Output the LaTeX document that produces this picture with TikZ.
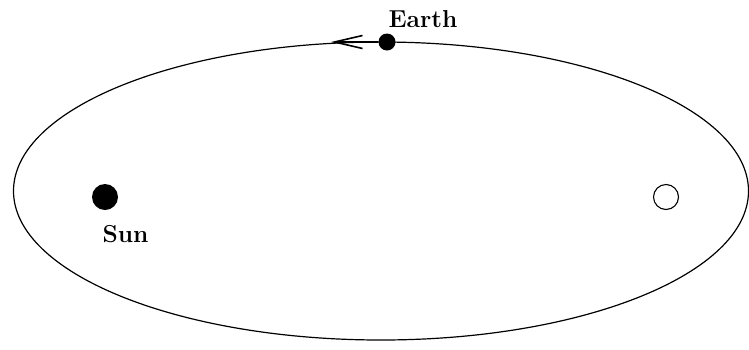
\documentclass[tikz,border=0pt]{standalone}
\usepackage{fontspec}
\usetikzlibrary{shapes.geometric,arrows.meta}
\begin{document}
\begin{tikzpicture}[x=1pt,y=-1pt,
  lbl/.style={font=\fontsize{24.5}{28}\selectfont\bfseries, inner sep=0pt, anchor=base},
  body/.style={circle, fill=black, inner sep=0pt}]
\useasboundingbox (0,0) rectangle (749,349);
\node[ellipse, draw, line width=1.2pt, minimum width=735pt, minimum height=298pt, inner sep=0pt] (orbit) at (381,191) {};
\node[body, minimum size=26pt] (sun) at (105,197) {};
\node[lbl] (sunlbl) at (125.5,242) {Sun};
\node[circle, draw, line width=1.1pt, minimum size=25pt, inner sep=0pt] (focus) at (666,197) {};
\node[body, minimum size=17pt] (earth) at (387,42) {};
\node[lbl] (earthlbl) at (423,27) {Earth};
\coordinate (tip) at (331,42);
\draw[line width=1.3pt, -{Straight Barb[length=28pt,width=13pt,line width=1.6pt]}] (earth) -- (tip);
\end{tikzpicture}
\end{document}
